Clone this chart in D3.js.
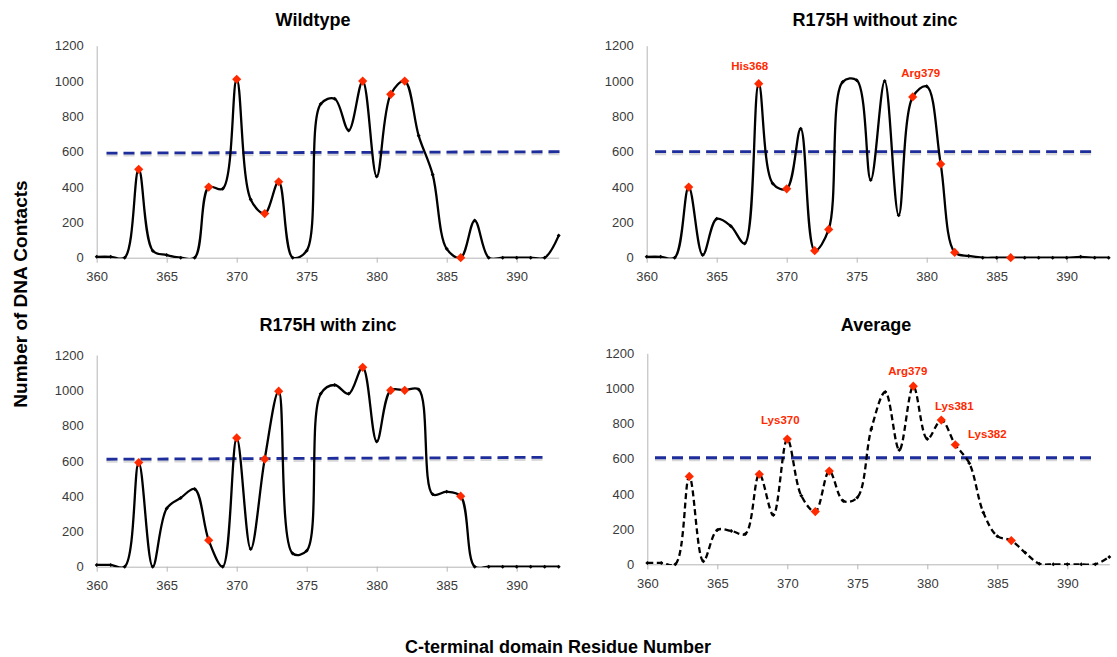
<!DOCTYPE html>
<html>
<head>
<meta charset="utf-8">
<script src="https://cdn.jsdelivr.net/npm/d3@7"></script>
<style>
  html, body { margin: 0; padding: 0; background: #fff; }
  svg { display: block; font-family: "Liberation Sans", Arial, Helvetica, sans-serif; }
</style>
</head>
<body>
<svg id="chart" width="1117" height="657"></svg>
<script>
// ---------------- DATA ----------------
const residues = [360,361,362,363,364,365,366,367,368,369,370,371,372,373,374,375,376,377,378,379,380,381,382,383,384,385,386,387,388,389,390,391,392,393];

const wildtype    = [5,5,0,500,40,15,0,0,400,390,1010,330,250,430,0,40,870,900,720,1000,460,925,1000,690,470,50,0,210,0,0,0,0,0,125];
const withoutZinc = [5,5,0,400,15,220,180,80,985,420,390,730,40,160,995,1005,440,1000,240,910,970,530,30,10,0,0,0,0,0,0,0,5,0,0];
const withZinc    = [10,10,0,590,0,330,390,440,150,0,730,100,610,995,75,90,980,1030,980,1130,710,1000,1000,1005,410,425,400,0,0,0,0,0,0,0];
const average     = [8,8,0,500,18,195,190,172,512,280,712,390,300,530,360,380,770,980,650,1013,713,820,680,575,295,160,135,65,3,0,0,0,0,42];

const highlighted = [363,368,370,372,373,379,381,382,386];

const panelTitles = ["Wildtype", "R175H without zinc", "R175H with zinc", "Average"];

// threshold line (start value, end value) and residue extent per panel
const thresholdStart = [592, 600, 609, 606];
const thresholdEnd   = [600, 600, 620, 606];
const thresholdFrom  = [360.7, 360.6, 360.7, 360.55];
const thresholdTo    = [393.1, 391.9, 392.0, 391.9];

const yTicks = [0,200,400,600,800,1000,1200];
const xTicks = [360,365,370,375,380,385,390];

// annotation labels: panel index, residue, text
const annoPanel   = [1, 1, 3, 3, 3, 3];
const annoResidue = [368, 379, 370, 379, 381, 382];
const annoText    = ["His368", "Arg379", "Lys370", "Arg379", "Lys381", "Lys382"];

// ---------------- LAYOUT / STYLE ----------------
const layout = [
  {left: 96.7,  right: 558.7,  bottom: 257.7, top: 45.7,  titleX: 313, titleY: 25.5, dashed: false},
  {left: 646.7, right: 1108.7, bottom: 257.7, top: 45.7,  titleX: 875, titleY: 25.5, dashed: false},
  {left: 96.7,  right: 558.7,  bottom: 566.7, top: 355,   titleX: 328, titleY: 331,  dashed: false},
  {left: 647.3, right: 1109.3, bottom: 564.3, top: 353.3, titleX: 876, titleY: 331,  dashed: true}
];
const annoOffset = [[-9,-14],[8,-19.5],[-7,-15],[-5.5,-11.5],[13,-10],[32,-6.5]];

const series = [wildtype, withoutZinc, withZinc, average];
const svg = d3.select("#chart");
svg.append("rect").attr("width",1117).attr("height",657).attr("fill","#fff");

const axisColor = "#b5b5b5";
const textColor = "#3a3a3a";
const red = "#ff2a00";
const blue = "#1e2d9c";

const diamond = r => `M0,${-r}L${r},0L0,${r}L${-r},0Z`;

series.forEach((vals, i) => {
  const L = layout[i];
  const x = d3.scaleLinear().domain([360, 393]).range([L.left, L.right]);
  const y = d3.scaleLinear().domain([0, 1200]).range([L.bottom, L.top]);
  const g = svg.append("g");

  // title
  g.append("text").attr("x", L.titleX).attr("y", L.titleY)
    .attr("text-anchor","middle").attr("font-weight","bold").attr("font-size",18)
    .attr("fill","#000").text(panelTitles[i]);

  // y axis
  const yAxis = d3.axisLeft(y).tickValues(yTicks).tickSize(0).tickPadding(13).tickFormat(d3.format("d"));
  const ya = g.append("g").attr("transform",`translate(${L.left},0)`).call(yAxis);
  ya.select(".domain").attr("stroke", axisColor).attr("stroke-width",1);
  ya.selectAll("text").attr("font-size",13).attr("fill",textColor).attr("font-family","Liberation Sans, Arial, sans-serif");

  // x axis
  const xAxis = d3.axisBottom(x).tickValues(xTicks).tickSize(5).tickSizeOuter(0).tickPadding(9).tickFormat(d3.format("d"));
  const xa = g.append("g").attr("transform",`translate(0,${L.bottom})`).call(xAxis);
  xa.select(".domain").attr("stroke", axisColor).attr("stroke-width",1);
  xa.selectAll(".tick line").attr("stroke", axisColor);
  xa.selectAll("text").attr("font-size",13).attr("fill",textColor).attr("font-family","Liberation Sans, Arial, sans-serif");

  // threshold dashed line with soft shadow
  const tx1 = x(thresholdFrom[i]), tx2 = x(thresholdTo[i]);
  const ty1 = y(thresholdStart[i]), ty2 = y(thresholdEnd[i]);
  g.append("line").attr("x1",tx1).attr("x2",tx2).attr("y1",ty1+2).attr("y2",ty2+2)
    .attr("stroke","#c8c8c8").attr("stroke-width",3).attr("stroke-dasharray","11,6").attr("opacity",0.7);
  g.append("line").attr("x1",tx1).attr("x2",tx2).attr("y1",ty1).attr("y2",ty2)
    .attr("stroke",blue).attr("stroke-width",2.8).attr("stroke-dasharray","11,6");

  // clip for curve
  const clipId = "clip" + i;
  svg.append("clipPath").attr("id", clipId).append("rect")
    .attr("x", L.left - 5).attr("y", L.top - 20)
    .attr("width", L.right - L.left + 10).attr("height", L.bottom - L.top + 20.6);

  const pts = residues.map((r, k) => ({r, v: vals[k]}));
  const line = d3.line().x(d => x(d.r)).y(d => y(d.v)).curve(d3.curveCatmullRom.alpha(0.5));
  const cg = g.append("g").attr("clip-path", `url(#${clipId})`);
  cg.append("path").attr("d", line(pts)).attr("fill","none").attr("stroke","#000")
    .attr("stroke-width",2.3).attr("stroke-linejoin","round")
    .attr("stroke-dasharray", L.dashed ? "6,3.5" : null);

  // small markers
  g.selectAll(".sm").data(pts).enter().append("path")
    .attr("transform", d => `translate(${x(d.r)},${y(d.v)})`)
    .attr("d", diamond(2)).attr("fill","#000");

  // red highlighted markers
  g.selectAll(".hm").data(pts.filter(d => highlighted.includes(d.r))).enter().append("path")
    .attr("transform", d => `translate(${x(d.r)},${y(d.v)})`)
    .attr("d", diamond(4.6)).attr("fill", red);

  // annotations
  annoPanel.forEach((p, k) => {
    if (p !== i) return;
    const idx = residues.indexOf(annoResidue[k]);
    g.append("text")
      .attr("x", x(annoResidue[k]) + annoOffset[k][0])
      .attr("y", y(vals[idx]) + annoOffset[k][1])
      .attr("text-anchor","middle").attr("font-weight","bold").attr("font-size",11.5)
      .attr("fill", red).text(annoText[k]);
  });
});

// global axis labels
svg.append("text").attr("transform","translate(27,294) rotate(-90)")
  .attr("text-anchor","middle").attr("font-weight","bold").attr("font-size",19)
  .attr("fill","#000").text("Number of DNA Contacts");
svg.append("text").attr("x",558).attr("y",653)
  .attr("text-anchor","middle").attr("font-weight","bold").attr("font-size",18)
  .attr("fill","#000").text("C-terminal domain Residue Number");
</script>
</body>
</html>
